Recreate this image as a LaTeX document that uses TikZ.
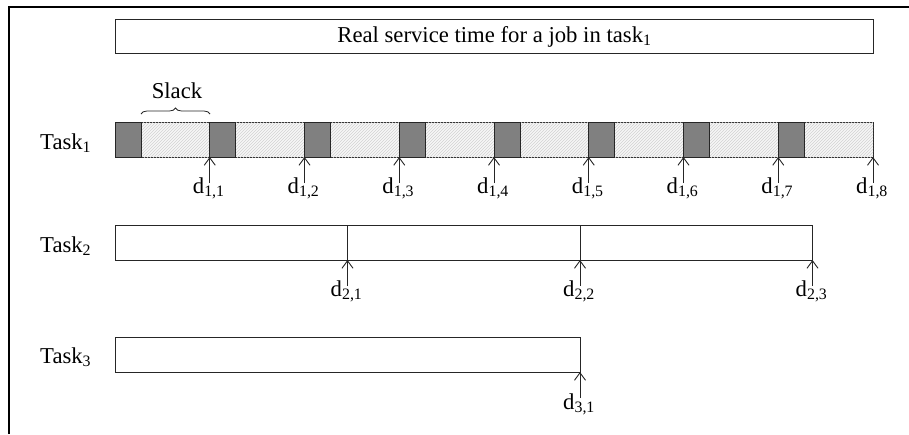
\documentclass[tikz,border=0pt]{standalone}
\usepackage{fontspec}
\setmainfont{Liberation Serif}
\usetikzlibrary{arrows.meta,patterns,decorations.pathreplacing}
\begin{document}
\begin{tikzpicture}[x=1pt,y=-1pt,
  txt/.style={font=\fontsize{22.7}{25}\selectfont, inner sep=0pt},
  bar/.style={draw=black!85, line width=0.9pt},
  busy/.style={draw=black!85, line width=0.9pt, fill=gray},
  slackbox/.style={draw=black!85, line width=0.9pt, fill=gray!6,
    postaction={pattern=north east lines, pattern color=gray!35}},
  deadline/.style={draw=black!85, line width=0.9pt,
    -{Straight Barb[length=7.5pt,width=11pt]}},
]
\useasboundingbox (0,0) rectangle (909,434);

% outer frame (top and left edges)
\draw[line width=2pt] (9,434) -- (9,7) -- (909,7);

% service time bar
\node[bar, txt, anchor=north west, minimum width=758pt, minimum height=34pt]
  (service) at (115,19) {Real service time for a job in task\textsubscript{1}};

% ---------- Task 1 ----------
\node[txt, anchor=base west] (task1) at (40,149) {Task\textsubscript{1}};
\foreach \k in {0,...,7}{
  \pgfmathsetmacro\xa{115+94.75*\k}
  \pgfmathsetmacro\xb{115+94.75*(\k+1)}
  \pgfmathtruncatemacro\n{\k+1}
  \draw[slackbox] (\xa+26,122) rectangle (\xb,157);
  \draw[busy] (\xa,122) rectangle (\xa+26,157);
  \coordinate (d1\n) at (\xb,157);
  \coordinate (s1\n) at (\xb,183);
  \draw[deadline] (s1\n) -- (d1\n);
  \node[txt, anchor=base west] (l1\n) at (\xb-17,193) {d\textsubscript{1,\n}};
}
% slack brace
\coordinate (br1) at (141,114);
\coordinate (br2) at (210,114);
\draw[black!85, line width=0.8pt, decorate, decoration={brace, amplitude=6pt}] (br1) -- (br2);
\node[txt, anchor=base] (slack) at (177,98) {Slack};

% ---------- Task 2 ----------
\node[txt, anchor=base west] (task2) at (40,252) {Task\textsubscript{2}};
\draw[bar] (115,225) rectangle (812.5,260);
\foreach \n/\x in {1/347.5,2/580,3/812.5}{
  \draw[bar] (\x,225) -- (\x,260);
  \coordinate (d2\n) at (\x,260);
  \coordinate (s2\n) at (\x,286);
  \draw[deadline] (s2\n) -- (d2\n);
  \node[txt, anchor=base west] (l2\n) at (\x-17,296) {d\textsubscript{2,\n}};
}

% ---------- Task 3 ----------
\node[txt, anchor=base west] (task3) at (40,363) {Task\textsubscript{3}};
\draw[bar] (115,337) rectangle (580,372);
\coordinate (d31) at (580,372);
\coordinate (s31) at (580,398);
\draw[deadline] (s31) -- (d31);
\node[txt, anchor=base west] (l31) at (563,409) {d\textsubscript{3,1}};
\end{tikzpicture}
\end{document}
